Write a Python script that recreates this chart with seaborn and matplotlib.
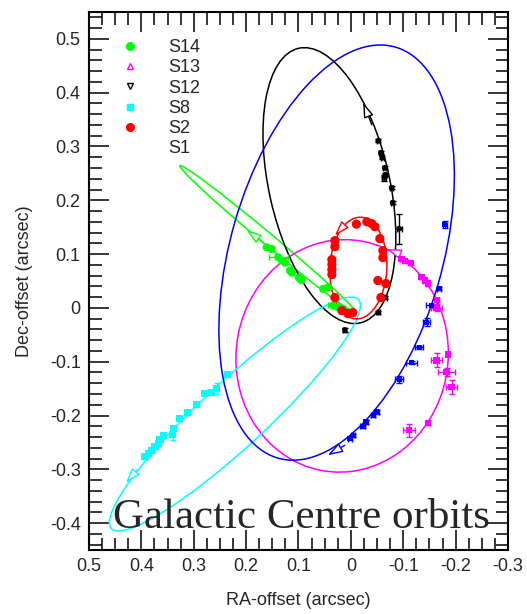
import numpy as np
import pandas as pd
import matplotlib
matplotlib.use("Agg")
import matplotlib.pyplot as plt
from matplotlib.patches import Ellipse
from matplotlib.lines import Line2D
from matplotlib.ticker import FixedLocator, FixedFormatter, MultipleLocator
import seaborn as sns

sns.set_style("ticks")
plt.rcParams["font.family"] = ["Liberation Sans", "DejaVu Sans"]

# ---- astrometry: RA / Dec offsets from Sgr A* (arcsec) ----
s14_ra = [0.1609, 0.1513, 0.1387, 0.1317, 0.1260, 0.1164, 0.1126, 0.0992, 0.0945,
          0.0529, 0.0433, 0.0338, 0.0242, 0.0147, 0.0067]
s14_dec = [0.1126, 0.1096, 0.0941, 0.0879, 0.0842, 0.0694, 0.0657, 0.0564, 0.0518,
           0.0354, 0.0384, 0.0045, 0.0013, -0.0017, -0.0076]
s14_ra_err = [0.004, 0.004, 0.018, 0.004, 0.004, 0.004, 0.004, 0.004, 0.004,
              0.004, 0.004, 0.010, 0.004, 0.004, 0.004]
s14_dec_err = [0.003] * 15

s13_ra = [-0.0968, -0.1031, -0.1145, -0.1349, -0.1412, -0.1469, -0.1647, -0.1635,
          -0.1857, -0.1635, -0.1826, -0.1922, -0.1475, -0.1107]
s13_dec = [0.0911, 0.0879, 0.0829, 0.0570, 0.0508, 0.0453, 0.0150, 0.0007,
           -0.0865, -0.0976, -0.1193, -0.1471, -0.2139, -0.2275]
s13_ra_err = [0.003, 0.003, 0.003, 0.003, 0.003, 0.003, 0.003, 0.011,
              0.003, 0.011, 0.017, 0.011, 0.004, 0.011]
s13_dec_err = [0.003, 0.003, 0.003, 0.003, 0.003, 0.003, 0.003, 0.007,
               0.003, 0.013, 0.007, 0.013, 0.004, 0.012]

s12_ra = [-0.0521, -0.0573, -0.0597, -0.0649, -0.0658, -0.0636, -0.0777, -0.0796,
          -0.0922, -0.0649, -0.0521, 0.0115]
s12_dec = [0.3106, 0.2883, 0.2790, 0.2605, 0.2475, 0.2419, 0.2234, 0.1955,
           0.1473, 0.0193, -0.0085, -0.0410]
s12_ra_err = [0.003, 0.003, 0.003, 0.003, 0.003, 0.004, 0.003, 0.003,
              0.005, 0.004, 0.003, 0.003]
s12_dec_err = [0.003, 0.003, 0.003, 0.003, 0.003, 0.006, 0.003, 0.003,
               0.028, 0.003, 0.003, 0.003]

s8_ra = [0.2361, 0.2563, 0.2658, 0.2786, 0.2945, 0.3116, 0.3277, 0.3391,
         0.3403, 0.3582, 0.3645, 0.3678, 0.3740, 0.3803, 0.3868, 0.3931]
s8_dec = [-0.1236, -0.1501, -0.1564, -0.1583, -0.1792, -0.1947, -0.2058, -0.2243,
          -0.2349, -0.2367, -0.2447, -0.2521, -0.2584, -0.2646, -0.2707, -0.2770]
s8_ra_err = [0.003] * 16
s8_dec_err = [0.003, 0.010, 0.003, 0.003, 0.003, 0.003, 0.003, 0.003,
              0.010, 0.003, 0.003, 0.003, 0.003, 0.003, 0.003, 0.003]

s2_ra = [-0.0105, -0.0305, -0.0400, -0.0458, -0.0553, -0.0611, -0.0611, -0.0515,
         -0.0668, -0.0573, 0.0305, 0.0305, 0.0363, 0.0363, 0.0363, 0.0363,
         0.0305, 0.0172, 0.0057, -0.0038]
s2_dec = [0.1557, 0.1603, 0.1566, 0.1510, 0.1288, 0.1066, 0.0936, 0.0509,
          0.0453, 0.0193, 0.1250, 0.1139, 0.0898, 0.0805, 0.0712, 0.0620,
          0.0193, -0.0049, -0.0105, -0.0086]
s2_ra_err = [0.004] * 20
s2_dec_err = [0.003] * 20

s1_ra = [-0.1794, -0.1685, -0.1540, -0.1445, -0.1303, -0.1158, -0.0922,
         -0.0490, -0.0426, -0.0286, -0.0223, -0.0044, 0.0019]
s1_dec = [0.1547, 0.0354, 0.0045, -0.0265, -0.0729, -0.1019, -0.1328,
          -0.1935, -0.1996, -0.2121, -0.2200, -0.2367, -0.2429]
s1_ra_err = [0.004, 0.004, 0.010, 0.007, 0.008, 0.011, 0.008,
             0.004, 0.004, 0.004, 0.004, 0.004, 0.004]
s1_dec_err = [0.006, 0.003, 0.003, 0.007, 0.003, 0.003, 0.006,
              0.004, 0.003, 0.003, 0.003, 0.003, 0.003]

# ---- projected orbit ellipses: centre, semi-axes, position angle (deg) ----
orbit_star = ["S14", "S13", "S12", "S8", "S2", "S1"]
orbit_ra0 = [0.1584, 0.0167, 0.0410, 0.2214, -0.0143, 0.0272]
orbit_dec0 = [0.1278, -0.0892, 0.2273, -0.1973, 0.0740, 0.1028]
orbit_a = [0.2163, 0.2166, 0.2619, 0.3177, 0.0946, 0.3981]
orbit_b = [0.0110, 0.2023, 0.1151, 0.0612, 0.0544, 0.2024]
orbit_angle = [39.1, 101.1, 76.9, -42.0, 93.0, 106.6]

# direction-of-motion arrows (tail -> tip)
arrow_star = ["S14", "S13", "S12", "S8", "S2", "S1"]
arrow_tail_ra = [0.1674, -0.0935, -0.0401, 0.4090, 0.0147, 0.0115]
arrow_tail_dec = [0.1219, 0.1003, 0.3403, -0.3016, 0.1512, -0.2553]
arrow_tip_ra = [0.1990, -0.0681, -0.0235, 0.4294, 0.0305, 0.0439]
arrow_tip_dec = [0.1449, 0.1096, 0.3816, -0.3252, 0.1343, -0.2738]

x_ticks = [0.5, 0.4, 0.3, 0.2, 0.1, 0.0, -0.1, -0.2, -0.3]
x_tick_labels = ["0.5", "0.4", "0.3", "0.2", "0.1", "0", "-0.1", "-0.2", "-0.3"]
y_ticks = [0.5, 0.4, 0.3, 0.2, 0.1, 0.0, -0.1, -0.2, -0.3, -0.4]
y_tick_labels = ["0.5", "0.4", "0.3", "0.2", "0.1", "0", "-0.1", "-0.2", "-0.3", "-0.4"]

colors = {"S14": "#00ff00", "S13": "#ff00ff", "S12": "#000000",
          "S8": "#00ffff", "S2": "#ff0000", "S1": "#0000ff"}
markers = {"S14": "o", "S13": "s", "S12": "h", "S8": "s", "S2": "o", "S1": "s"}
sizes = {"S14": 34, "S13": 20, "S12": 20, "S8": 26, "S2": 44, "S1": 14}

series = {
    "S14": (s14_ra, s14_dec, s14_ra_err, s14_dec_err),
    "S13": (s13_ra, s13_dec, s13_ra_err, s13_dec_err),
    "S12": (s12_ra, s12_dec, s12_ra_err, s12_dec_err),
    "S8": (s8_ra, s8_dec, s8_ra_err, s8_dec_err),
    "S2": (s2_ra, s2_dec, s2_ra_err, s2_dec_err),
    "S1": (s1_ra, s1_dec, s1_ra_err, s1_dec_err),
}

frames = []
for name, (ra, dec, rae, dece) in series.items():
    frames.append(pd.DataFrame({"ra": ra, "dec": dec, "ra_err": rae,
                                "dec_err": dece, "star": name}))
df = pd.concat(frames, ignore_index=True)

fig = plt.figure(figsize=(5.27, 6.14), dpi=100)
ax = fig.add_axes([89 / 527, 64 / 614, 419 / 527, 538 / 614])

# orbits
for st, x0, y0, a, b, ang in zip(orbit_star, orbit_ra0, orbit_dec0,
                                 orbit_a, orbit_b, orbit_angle):
    ax.add_patch(Ellipse((x0, y0), 2 * a, 2 * b, angle=ang, fill=False,
                         edgecolor=colors[st], linewidth=1.1, zorder=2))

# open arrowheads showing the sense of motion
for st, tx, ty, hx, hy in zip(arrow_star, arrow_tail_ra, arrow_tail_dec,
                              arrow_tip_ra, arrow_tip_dec):
    ax.annotate("", xy=(hx, hy), xytext=(tx, ty),
                arrowprops=dict(arrowstyle="-|>,head_length=0.9,head_width=0.3",
                                edgecolor=colors[st], facecolor="white", lw=1.0,
                                shrinkA=0, shrinkB=0), zorder=3)

# error bars
for name, g in df.groupby("star", sort=False):
    ax.errorbar(g["ra"], g["dec"], xerr=g["ra_err"], yerr=g["dec_err"],
                fmt="none", ecolor=colors[name], elinewidth=1.0,
                capsize=2, capthick=1.0, zorder=4)

# positions
sns.scatterplot(data=df, x="ra", y="dec", hue="star", style="star",
                size="star", palette=colors, markers=markers, sizes=sizes,
                linewidth=0, legend=False, ax=ax, zorder=5)

ax.set_xlim(0.5, -0.3)
ax.set_ylim(-0.45, 0.55)

ax.xaxis.set_major_locator(FixedLocator(x_ticks))
ax.xaxis.set_major_formatter(FixedFormatter(x_tick_labels))
ax.yaxis.set_major_locator(FixedLocator(y_ticks))
ax.yaxis.set_major_formatter(FixedFormatter(y_tick_labels))
ax.xaxis.set_minor_locator(MultipleLocator(0.025))
ax.yaxis.set_minor_locator(MultipleLocator(0.02))
ax.tick_params(which="both", direction="in", top=True, right=True,
               width=1.1, color="black")
ax.tick_params(which="major", length=14.5, labelsize=13, pad=6)
ax.tick_params(which="minor", length=9)
for sp in ax.spines.values():
    sp.set_linewidth(1.5)
    sp.set_color("black")

ax.set_xlabel("RA-offset (arcsec)", fontsize=13, labelpad=12)
ax.set_ylabel("Dec-offset (arcsec)", fontsize=13, labelpad=12)

ax.text(0.506, 0.041, "Galactic Centre orbits", transform=ax.transAxes,
        ha="center", va="baseline", fontsize=31,
        family=["Liberation Serif", "DejaVu Serif"], zorder=6)

# legend
handles = [
    Line2D([], [], ls="none", marker="o", color=colors["S14"], markersize=5.5),
    Line2D([], [], ls="none", marker="^", color=colors["S13"], mfc="none",
           markersize=4.5, markeredgewidth=1.0),
    Line2D([], [], ls="none", marker="v", color=colors["S12"], mfc="none",
           markersize=4.5, markeredgewidth=1.0),
    Line2D([], [], ls="none", marker="s", color=colors["S8"], markersize=5),
    Line2D([], [], ls="none", marker="o", color=colors["S2"], markersize=5.5),
    Line2D([], [], ls="none", marker="none", color=colors["S1"]),
]
ax.legend(handles, ["S14", "S13", "S12", "S8", "S2", "S1"], loc="upper left",
          bbox_to_anchor=(0.06, 0.963), frameon=False, fontsize=13,
          handlelength=1.0, handletextpad=1.6, labelspacing=0.18,
          borderaxespad=0.0)

fig.savefig("out.png", dpi=100)
